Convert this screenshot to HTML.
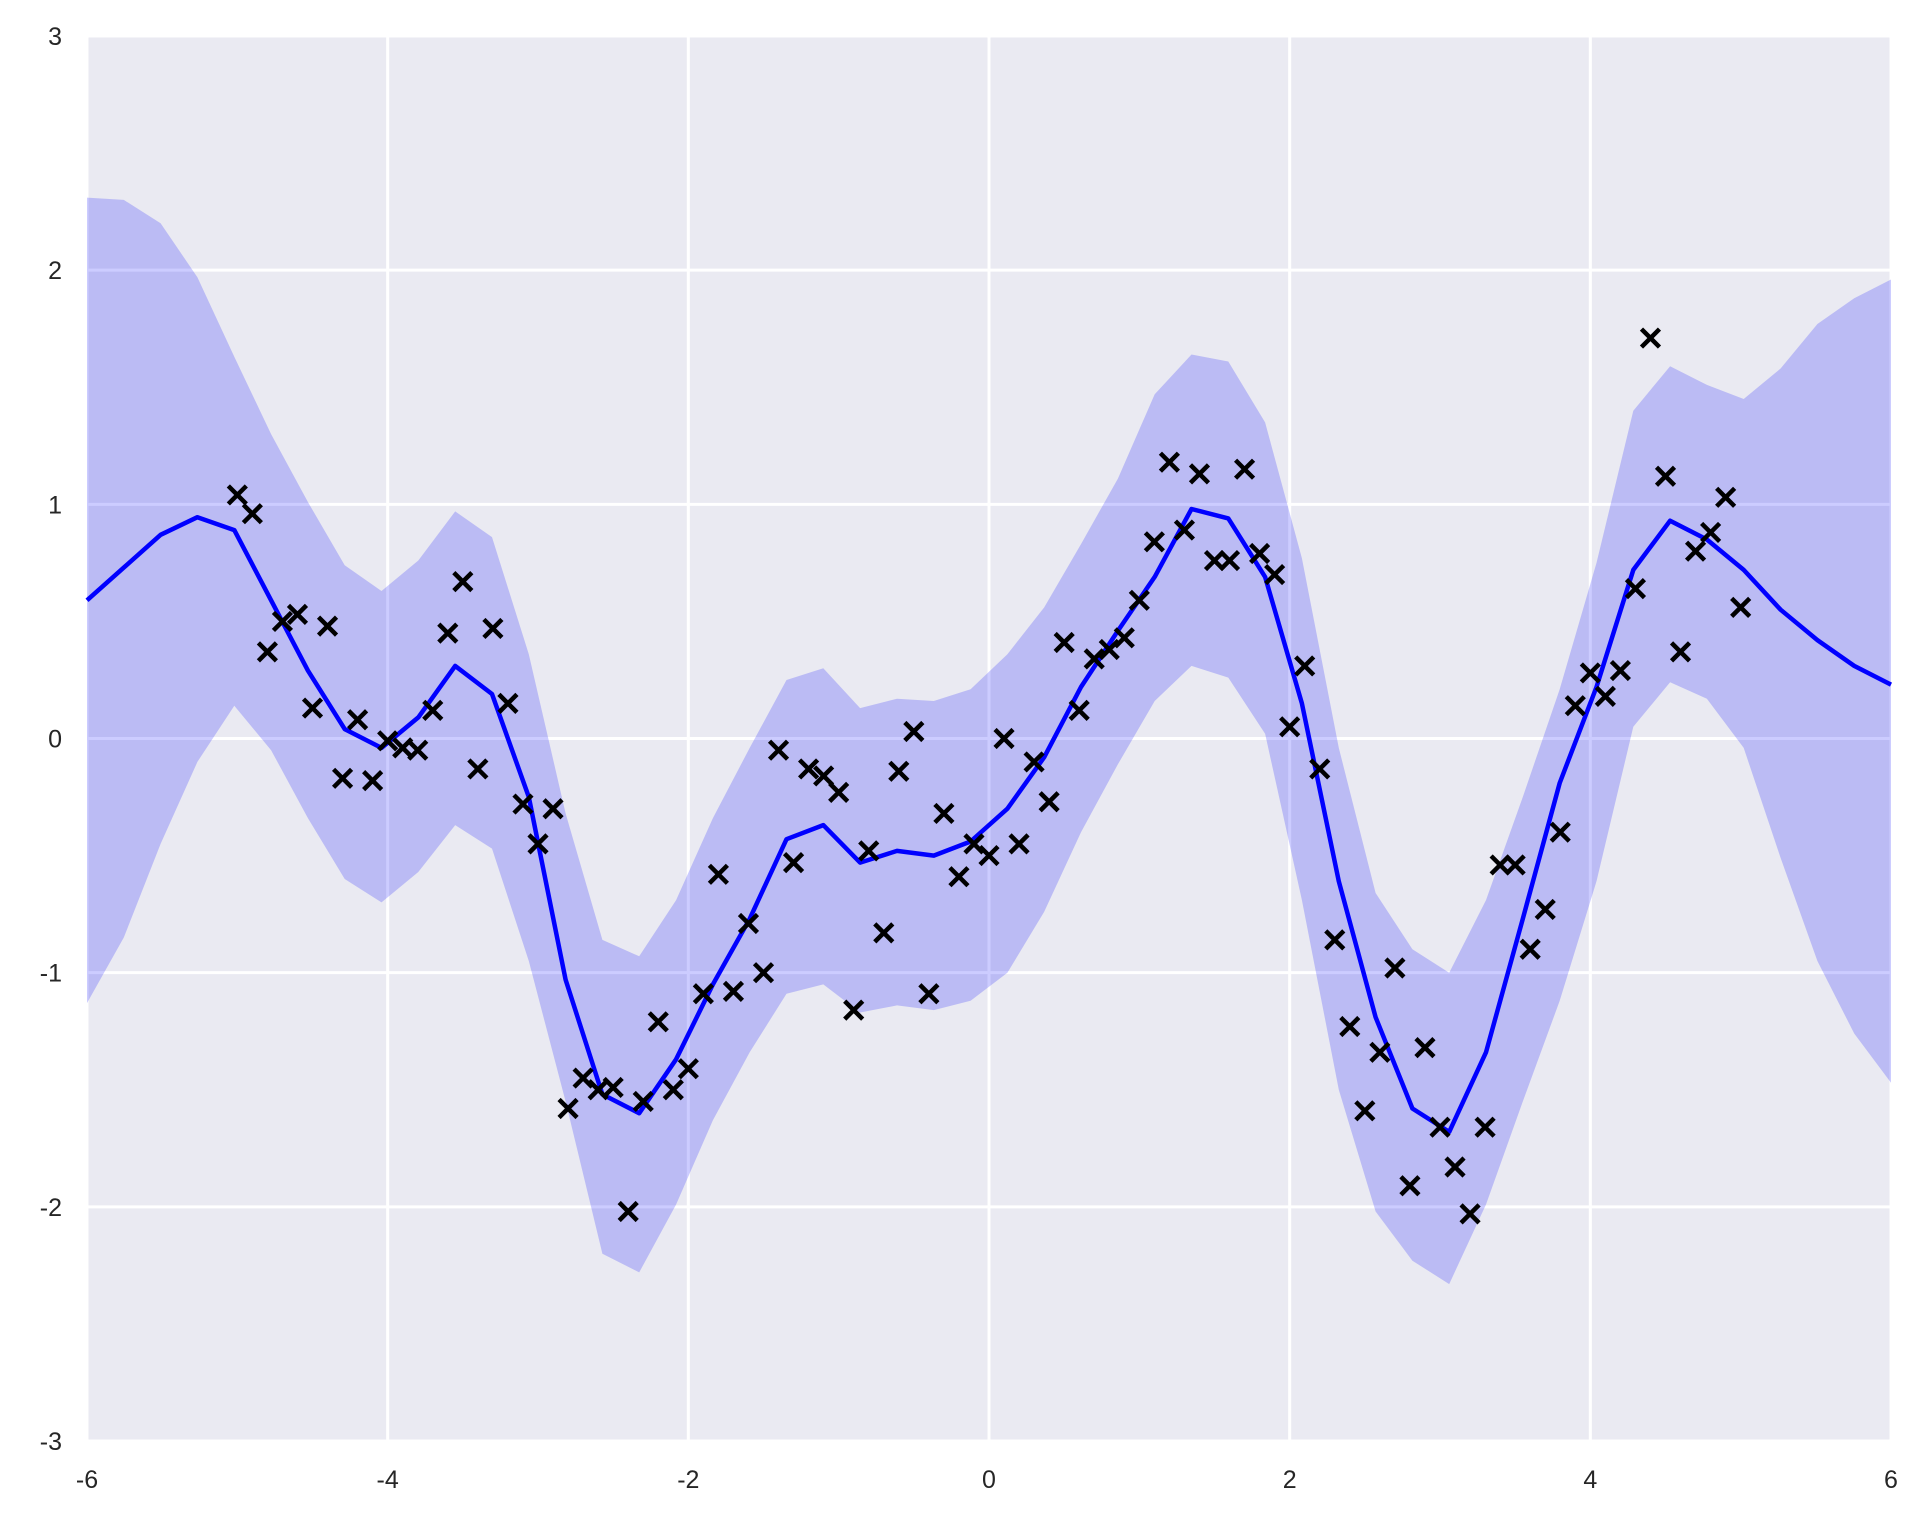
<!DOCTYPE html>
<html><head><meta charset="utf-8"><style>
html,body{margin:0;padding:0;background:#fff;}
svg{display:block;}
text{font-family:"Liberation Sans",Arial,sans-serif;fill:#262626;font-size:25px;}
</style></head><body>
<svg id="chart" width="1920" height="1515" viewBox="0 0 1920 1515" xmlns="http://www.w3.org/2000/svg">
<rect x="87" y="36" width="1804" height="1405" fill="#EAEAF2"/>
<g id="grid"></g>
<g id="band"></g>
<g id="meanline"></g>
<g id="points"></g>
<g id="xticks"></g>
<g id="yticks"></g>
</svg>
<script>
const xTicks = [-6,-4,-2,0,2,4,6];
const yTicks = [-3,-2,-1,0,1,2,3];
const meanY = [0.59,0.73,0.87,0.945,0.89,0.59,0.29,0.04,-0.04,0.09,0.31,0.19,-0.25,-1.03,-1.52,-1.60,-1.37,-1.05,-0.77,-0.43,-0.37,-0.53,-0.48,-0.50,-0.44,-0.30,-0.08,0.22,0.46,0.69,0.98,0.94,0.69,0.15,-0.61,-1.19,-1.58,-1.68,-1.34,-0.77,-0.19,0.22,0.72,0.93,0.85,0.72,0.55,0.42,0.31,0.23];
const upperY = [2.31,2.30,2.20,1.97,1.63,1.30,1.01,0.74,0.63,0.76,0.97,0.86,0.36,-0.32,-0.86,-0.93,-0.69,-0.34,-0.04,0.25,0.30,0.13,0.17,0.16,0.21,0.36,0.56,0.83,1.11,1.47,1.64,1.61,1.35,0.77,-0.04,-0.66,-0.90,-1.00,-0.69,-0.25,0.21,0.75,1.40,1.59,1.51,1.45,1.58,1.77,1.88,1.96];
const lowerY = [-1.13,-0.85,-0.45,-0.10,0.14,-0.05,-0.34,-0.60,-0.70,-0.57,-0.37,-0.47,-0.95,-1.55,-2.20,-2.28,-1.99,-1.63,-1.34,-1.09,-1.05,-1.17,-1.14,-1.16,-1.12,-1.00,-0.74,-0.40,-0.11,0.16,0.31,0.26,0.02,-0.69,-1.50,-2.02,-2.23,-2.33,-1.99,-1.55,-1.12,-0.61,0.05,0.24,0.17,-0.04,-0.51,-0.95,-1.26,-1.47];
const obsY = [1.04,0.96,0.37,0.50,0.53,0.13,0.48,-0.17,0.08,-0.18,-0.01,-0.04,-0.05,0.12,0.45,0.67,-0.13,0.47,0.15,-0.28,-0.45,-0.30,-1.58,-1.45,-1.50,-1.49,-2.02,-1.55,-1.21,-1.50,-1.41,-1.09,-0.58,-1.08,-0.79,-1.00,-0.05,-0.53,-0.13,-0.16,-0.23,-1.16,-0.48,-0.83,-0.14,0.03,-1.09,-0.32,-0.59,-0.45,-0.50,0.00,-0.45,-0.10,-0.27,0.41,0.12,0.34,0.38,0.43,0.59,0.84,1.18,0.89,1.13,0.76,0.76,1.15,0.79,0.70,0.05,0.31,-0.13,-0.86,-1.23,-1.59,-1.34,-0.98,-1.91,-1.32,-1.66,-1.83,-2.03,-1.66,-0.54,-0.54,-0.90,-0.73,-0.40,0.14,0.28,0.18,0.29,0.64,1.71,1.12,0.37,0.80,0.88,1.03,0.56];
const gridX = meanY.map((_, i) => -6 + 12 * i / (meanY.length - 1));
const obsX = obsY.map((_, i) => -5 + 0.1 * i);

const L=87,R=1891,T=36,B=1441;
const sx = v => L + (v + 6) / 12 * (R - L);
const sy = v => T + (3 - v) / 6 * (B - T);
const NS='http://www.w3.org/2000/svg';
function mk(tag, parent){const e=document.createElementNS(NS,tag);document.getElementById(parent).appendChild(e);return e;}

xTicks.forEach(t=>{
  const l=mk('line','grid');
  
  
  l.setAttribute('x1',sx(t));l.setAttribute('x2',sx(t));l.setAttribute('y1',T);l.setAttribute('y2',B);
  l.setAttribute('stroke','#fff');l.setAttribute('stroke-width','3');
  const tx=mk('text','xticks');
  
  
  tx.setAttribute('x',sx(t));tx.setAttribute('y',B+47);tx.setAttribute('text-anchor','middle');
  tx.textContent=String(t);
});
yTicks.forEach(t=>{
  const l=mk('line','grid');
  
  
  l.setAttribute('x1',L);l.setAttribute('x2',R);l.setAttribute('y1',sy(t));l.setAttribute('y2',sy(t));
  l.setAttribute('stroke','#fff');l.setAttribute('stroke-width','3');
  const tx=mk('text','yticks');
  
  
  tx.setAttribute('x',62);tx.setAttribute('y',sy(t)+9);tx.setAttribute('text-anchor','end');
  tx.textContent=String(t);
});

let d='';
gridX.forEach((x,i)=>{d+=(i?'L':'M')+sx(x).toFixed(1)+','+sy(upperY[i]).toFixed(1);});
for(let i=gridX.length-1;i>=0;i--){d+='L'+sx(gridX[i]).toFixed(1)+','+sy(lowerY[i]).toFixed(1);}
d+='Z';
const band=mk('path','band');


band.setAttribute('d',d);band.setAttribute('fill','#0000ff');band.setAttribute('fill-opacity','0.2');

const ml=mk('polyline','meanline');


ml.setAttribute('points',gridX.map((x,i)=>sx(x).toFixed(1)+','+sy(meanY[i]).toFixed(1)).join(' '));
ml.setAttribute('fill','none');ml.setAttribute('stroke','#0000ff');ml.setAttribute('stroke-width','4.5');ml.setAttribute('stroke-linejoin','round');

const s=9;
obsX.forEach((x,i)=>{
  const cx=sx(x),cy=sy(obsY[i]);
  const p=mk('path','points');
  
  
  p.setAttribute('d',`M${cx-s},${cy-s}L${cx+s},${cy+s}M${cx-s},${cy+s}L${cx+s},${cy-s}`);
  p.setAttribute('stroke','#000');p.setAttribute('stroke-width','4.5');
});
</script>
</body></html>
